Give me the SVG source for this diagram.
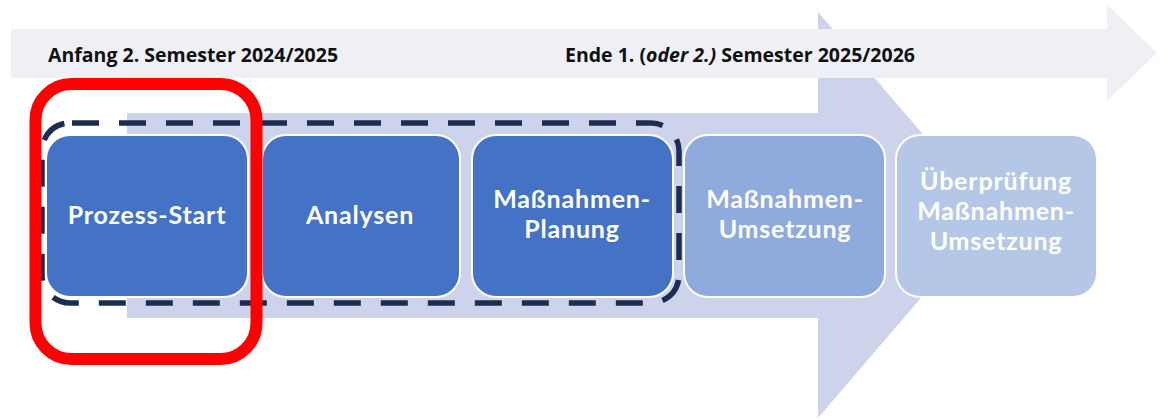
<svg xmlns="http://www.w3.org/2000/svg" width="1173" height="420" viewBox="0 0 1173 420">
<style>
.lbl{font-family:Lato,"Open Sans","Liberation Sans",sans-serif;font-weight:700;font-size:25px;letter-spacing:0.8px;fill:#ffffff;text-anchor:middle}
.hdr{font-family:"Open Sans","Liberation Sans",sans-serif;font-weight:700;font-size:19.5px;fill:#111111}
.box{stroke:#ffffff;stroke-width:2}
.b1{fill:#4472C4}
.b2{fill:#8FAADC}
.b3{fill:#B4C7E7}
</style>
<rect width="1173" height="420" fill="#ffffff"/>
<g id="arrows">
  <polygon id="big-arrow" points="127,113 818,113 818,12 992,215 818,418 818,318 127,318" fill="#CDD3EA"/>
  <polygon id="timeline-arrow" points="11,29 1107,29 1107,5 1157,53 1107,101 1107,78 11,78" fill="#EFF0F5"/>
</g>
<g id="header-texts">
  <text class="hdr" x="48" y="62">Anfang 2. Semester 2024/2025</text>
  <text class="hdr" x="565" y="62">Ende 1. (<tspan font-style="italic">oder 2.)</tspan> Semester 2025/2026</text>
</g>
<g id="phase-frame">
  <rect x="42" y="123" width="637" height="180" rx="28" fill="none" stroke="#1B2E52" stroke-width="5.5" stroke-dasharray="27 20" stroke-dashoffset="-2"/>
</g>
<g id="node-prozess-start">
  <rect class="box b1" x="46" y="135" width="202" height="162" rx="24"/>
  <text class="lbl" x="147" y="224">Prozess-Start</text>
</g>
<g id="node-analysen">
  <rect class="box b1" x="262" y="135" width="198" height="162" rx="24"/>
  <text class="lbl" x="360" y="224">Analysen</text>
</g>
<g id="node-planung">
  <rect class="box b1" x="472" y="135" width="201" height="162" rx="24"/>
  <text class="lbl" x="572" y="208">Maßnahmen-</text>
  <text class="lbl" x="572" y="238">Planung</text>
</g>
<g id="node-umsetzung">
  <rect class="box b2" x="684" y="135" width="201" height="162" rx="24"/>
  <text class="lbl" x="785" y="208">Maßnahmen-</text>
  <text class="lbl" x="785" y="238">Umsetzung</text>
</g>
<g id="node-ueberpruefung">
  <rect class="box b3" x="896" y="135" width="201" height="162" rx="24"/>
  <text class="lbl" x="996" y="190">Überprüfung</text>
  <text class="lbl" x="996" y="220">Maßnahmen-</text>
  <text class="lbl" x="996" y="250">Umsetzung</text>
</g>
<g id="highlight">
  <rect x="35.5" y="84" width="221" height="275" rx="36" fill="none" stroke="#FF0000" stroke-width="12"/>
</g>
</svg>
